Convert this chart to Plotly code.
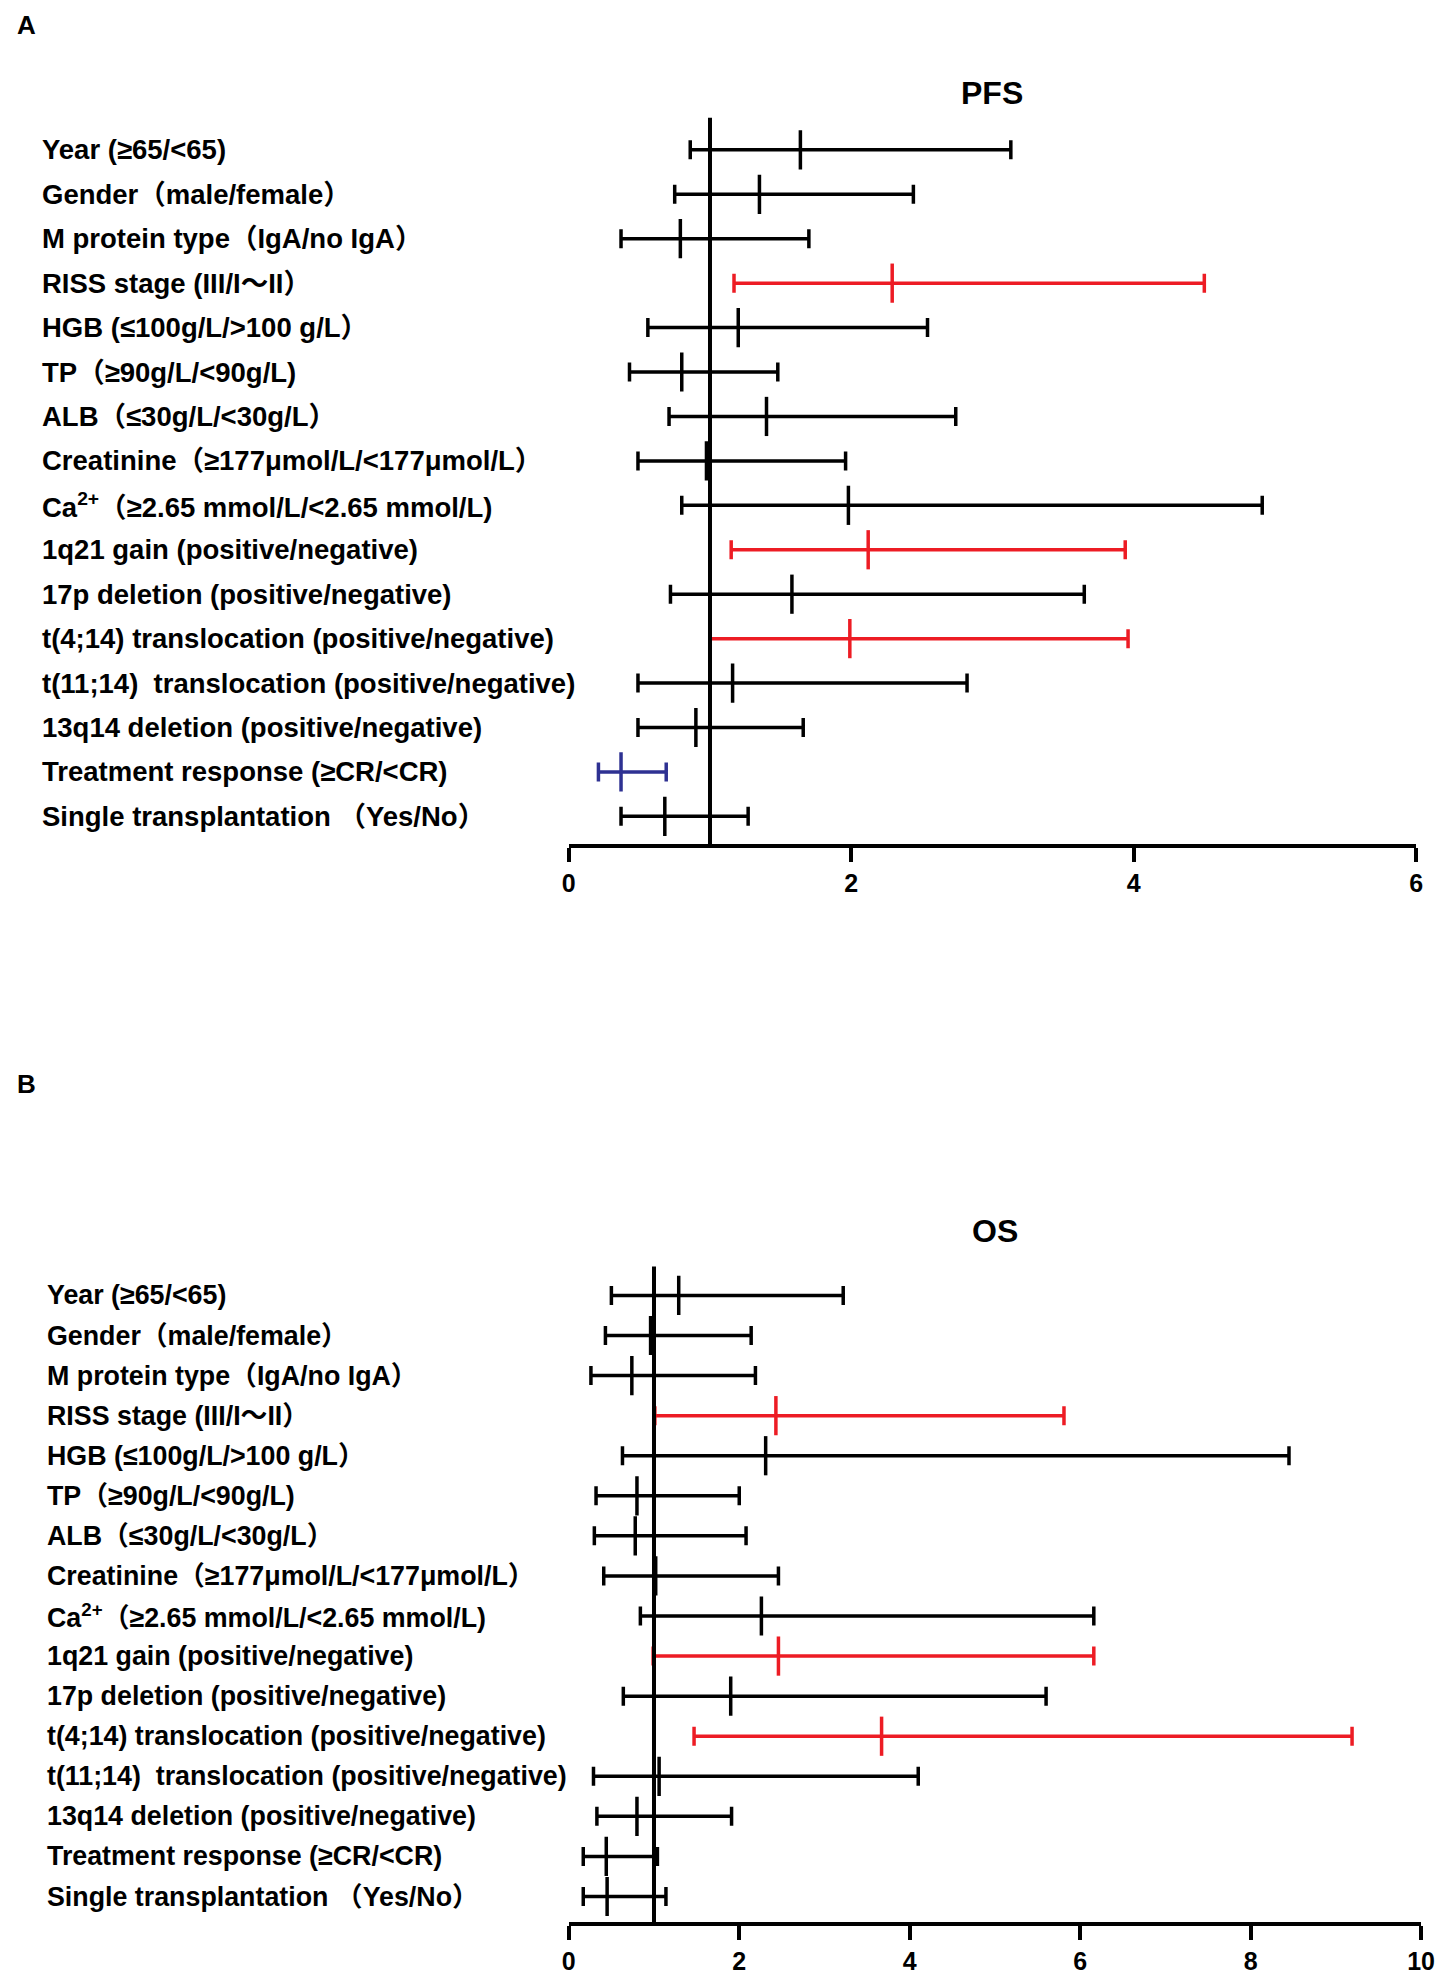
import plotly.graph_objects as go

# row labels (top to bottom), shared by both panels
factors = [
    "Year (≥65/<65)",
    "Gender（male/female）",
    "M protein type（IgA/no IgA）",
    "RISS stage (III/I～II）",
    "HGB (≤100g/L/>100 g/L）",
    "TP（≥90g/L/<90g/L)",
    "ALB（≤30g/L/<30g/L）",
    "Creatinine（≥177μmol/L/<177μmol/L）",
    "Ca<sup>2+</sup>（≥2.65 mmol/L/<2.65 mmol/L)",
    "1q21 gain (positive/negative)",
    "17p deletion (positive/negative)",
    "t(4;14) translocation (positive/negative)",
    "t(11;14)  translocation (positive/negative)",
    "13q14 deletion (positive/negative)",
    "Treatment response (≥CR/<CR)",
    "Single transplantation （Yes/No）",
]

# PFS hazard ratios and 95% CI
pfs_hr = [1.64, 1.35, 0.79, 2.29, 1.20, 0.80, 1.40, 0.975, 1.98, 2.12, 1.58, 1.99, 1.16, 0.90, 0.37, 0.68]
pfs_low = [0.86, 0.75, 0.37, 1.17, 0.56, 0.43, 0.71, 0.49, 0.80, 1.15, 0.72, 1.00, 0.49, 0.49, 0.21, 0.37]
pfs_high = [3.13, 2.44, 1.70, 4.50, 2.54, 1.48, 2.74, 1.96, 4.91, 3.94, 3.65, 3.96, 2.82, 1.66, 0.69, 1.27]
pfs_col = ["k", "k", "k", "r", "k", "k", "k", "k", "k", "r", "k", "r", "k", "k", "b", "k"]

# OS hazard ratios and 95% CI
os_hr = [1.29, 0.96, 0.74, 2.43, 2.31, 0.80, 0.78, 1.02, 2.26, 2.46, 1.90, 3.67, 1.06, 0.80, 0.44, 0.45]
os_low = [0.50, 0.43, 0.26, 1.01, 0.63, 0.32, 0.30, 0.41, 0.84, 0.99, 0.64, 1.47, 0.29, 0.33, 0.17, 0.17]
os_high = [3.22, 2.14, 2.19, 5.81, 8.45, 2.00, 2.08, 2.46, 6.16, 6.16, 5.60, 9.19, 4.10, 1.91, 1.04, 1.14]
os_col = ["k", "k", "k", "r", "k", "k", "k", "k", "k", "r", "k", "r", "k", "k", "k", "k"]

pfs_ticks = [0, 2, 4, 6]
os_ticks = [0, 2, 4, 6, 8, 10]

COLORS = {"k": "#000000", "r": "#ED1C24", "b": "#2E3192"}
FONT = "Liberation Sans, Arial, Noto Sans CJK SC, sans-serif"

# the page body has an 8px margin, so the figure is made 16px smaller
PAD = 8
W, H = 1450 - 2 * PAD, 1983 - 2 * PAD


def px(x):
    return (x - PAD) / W


def py(y):
    return 1 - (y - PAD) / H


fig = go.Figure()


def add_panel(hr, low, high, cols, xa, ya):
    rows = list(range(len(hr)))
    for c in ["k", "r", "b"]:
        idx = [i for i in rows if cols[i] == c]
        if not idx:
            continue
        fig.add_trace(go.Scatter(
            x=[hr[i] for i in idx],
            y=[i for i in idx],
            mode="markers",
            marker=dict(symbol="line-ns", size=28,
                        line=dict(width=3.5, color=COLORS[c])),
            error_x=dict(type="data", symmetric=False,
                         array=[high[i] - hr[i] for i in idx],
                         arrayminus=[hr[i] - low[i] for i in idx],
                         color=COLORS[c], thickness=3.5, width=9.5),
            xaxis=xa, yaxis=ya, showlegend=False, hoverinfo="skip",
        ))


add_panel(pfs_hr, pfs_low, pfs_high, pfs_col, "x", "y")
add_panel(os_hr, os_low, os_high, os_col, "x2", "y2")

# panel A geometry (screen pixels from top)
a_row0, a_step, a_axis = 151, 44.8, 851
a_bottom = 15 + (a_axis - (a_row0 + 15 * a_step)) / a_step
a_top_px = a_row0 - 2 * a_step
# panel B geometry
b_row0, b_step, b_axis = 1306, 40.4, 1938
b_bottom = 15 + (b_axis - (b_row0 + 15 * b_step)) / b_step
b_top_px = b_row0 - 2 * b_step

tick_font = dict(family=FONT, size=25, color="black", weight="bold")
axis_common = dict(showgrid=False, zeroline=False, showline=True, linewidth=4,
                   linecolor="black", ticks="outside", ticklen=14, tickwidth=4,
                   tickcolor="black", tickfont=tick_font)

fig.update_layout(
    width=W, height=H,
    margin=dict(l=0, r=0, t=0, b=0),
    paper_bgcolor="white", plot_bgcolor="white",
    xaxis=dict(domain=[px(570), px(1430)], range=[0, 6], tickvals=pfs_ticks,
               anchor="y", **axis_common),
    yaxis=dict(domain=[py(a_axis), py(a_top_px)], range=[a_bottom, -2],
               visible=False, anchor="x"),
    xaxis2=dict(domain=[px(570), px(1435)], range=[0, 10], tickvals=os_ticks,
                anchor="y2", **axis_common),
    yaxis2=dict(domain=[py(b_axis), py(b_top_px)], range=[b_bottom, -2],
                visible=False, anchor="x2"),
)

# reference line at HR = 1
fig.add_shape(type="line", xref="x", yref="y", x0=1, x1=1, y0=-0.72, y1=a_bottom,
              line=dict(color="black", width=4))
fig.add_shape(type="line", xref="x2", yref="y2", x0=1, x1=1, y0=-0.72, y1=b_bottom,
              line=dict(color="black", width=4))

font_a = dict(family=FONT, size=27.5, color="black", weight="bold")
font_b = dict(family=FONT, size=26.8, color="black", weight="bold")
for i, name in enumerate(factors):
    fig.add_annotation(text=name, xref="paper", yref="y", x=px(33), y=i,
                       xanchor="left", yanchor="middle", showarrow=False,
                       font=font_a)
    fig.add_annotation(text=name, xref="paper", yref="y2", x=px(38), y=i,
                       xanchor="left", yanchor="middle", showarrow=False,
                       font=font_b)

title_font = dict(family=FONT, size=32, color="black", weight="bold")
fig.add_annotation(text="PFS", xref="x", yref="y", x=3, y=-1.28, showarrow=False,
                   xanchor="center", yanchor="middle", font=title_font)
fig.add_annotation(text="OS", xref="x2", yref="y2", x=5, y=-1.6, showarrow=False,
                   xanchor="center", yanchor="middle", font=title_font)

panel_font = dict(family=FONT, size=26, color="black", weight="bold")
fig.add_annotation(text="A", xref="paper", yref="paper", x=px(8), y=py(8),
                   xanchor="left", yanchor="top", showarrow=False, font=panel_font)
fig.add_annotation(text="B", xref="paper", yref="paper", x=px(8), y=py(1076),
                   xanchor="left", yanchor="top", showarrow=False, font=panel_font)

fig.write_html("out.html")
